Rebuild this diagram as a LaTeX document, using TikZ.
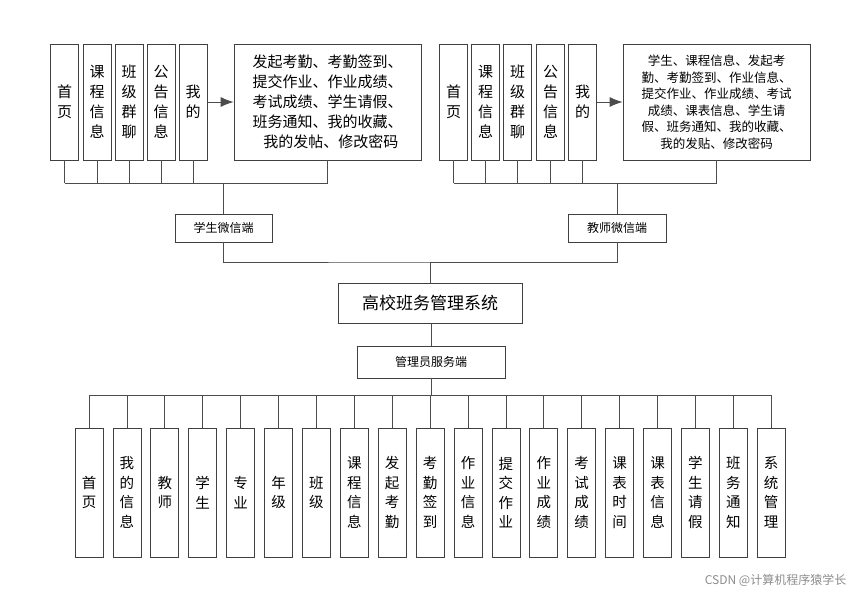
\documentclass[tikz,border=0pt]{standalone}
\usepackage{fontspec}
\setmainfont{Noto Sans CJK SC}
\usetikzlibrary{arrows.meta}
\begin{document}
\begin{tikzpicture}[x=1pt,y=-1pt,line width=0.8pt,
  bx/.style={draw=black!75,fill=white,inner sep=0pt,align=center,font=\fontsize{15}{20}\selectfont},
  conn/.style={draw=black!70,line width=0.8pt}]
\useasboundingbox (0,0) rectangle (854,595);
% left top
\foreach \n/\x/\t in {a1/64.5/首\\页, a2/97/课\\程\\信\\息, a3/129/班\\级\\群\\聊, a4/161/公\\告\\信\\息, a5/193/我\\的}
  \node[bx,minimum width=28pt,minimum height=116pt] (\n) at (\x,102) {\t};
\node[bx,minimum width=187pt,minimum height=116pt,font=\fontsize{15}{20}\selectfont] (a6) at (327.5,102) {发起考勤、考勤签到、\\提交作业、作业成绩、\\考试成绩、学生请假、\\班务通知、我的收藏、\\\ \ 我的发帖、修改密码};
\draw[conn,-{Latex[length=13pt,width=10pt]}] (a5.east) -- (a6.west);
% right top
\foreach \n/\x/\t in {b1/453.5/首\\页, b2/485.5/课\\程\\信\\息, b3/517.5/班\\级\\群\\聊, b4/550.5/公\\告\\信\\息, b5/582.5/我\\的}
  \node[bx,minimum width=28pt,minimum height=116pt] (\n) at (\x,102) {\t};
\node[bx,minimum width=187pt,minimum height=116pt,font=\fontsize{12.5}{16.5}\selectfont] (b6) at (716.5,102) {学生、课程信息、发起考\\勤、考勤签到、作业信息、\\提交作业、作业成绩、考试\\成绩、课表信息、学生请\\假、班务通知、我的收藏、\\我的发贴、修改密码};
\draw[conn,-{Latex[length=13pt,width=10pt]}] (b5.east) -- (b6.west);
% client boxes
\node[bx,minimum width=97pt,minimum height=28pt,font=\fontsize{12}{14}\selectfont] (s) at (223.5,228) {学生微信端};
\node[bx,minimum width=98pt,minimum height=28pt,font=\fontsize{12}{14}\selectfont] (t) at (617,228) {教师微信端};
\node[bx,minimum width=184pt,minimum height=40pt,font=\fontsize{17}{20}\selectfont] (m) at (430,303) {高校班务管理系统};
\node[bx,minimum width=148pt,minimum height=32pt,font=\fontsize{12}{14}\selectfont] (adm) at (431,362) {管理员服务端};
% buses top
\foreach \n in {a1,a2,a3,a4,a5,a6} \draw[conn] (\n.south) -- (\n.south |- 0,183);
\draw[conn] (a1.south |- 0,183) -- (a6.south |- 0,183);
\draw[conn] (s.north |- 0,183) -- (s.north);
\foreach \n in {b1,b2,b3,b4,b5,b6} \draw[conn] (\n.south) -- (\n.south |- 0,183);
\draw[conn] (b1.south |- 0,183) -- (b6.south |- 0,183);
\draw[conn] (t.north |- 0,183) -- (t.north);
\coordinate (j) at (431,262);
\draw[conn] (s.south) |- (j) -| (m.north);
\draw[conn] (t.south) |- (j);
\draw[conn] (m.south -| adm.north) -- (adm.north);
% bottom
\foreach \t [count=\i from 0] in {首\\页,我\\的\\信\\息,教\\师,学\\生,专\\业,年\\级,班\\级,课\\程\\信\\息,发\\起\\考\\勤,考\\勤\\签\\到,作\\业\\信\\息,提\\交\\作\\业,作\\业\\成\\绩,考\\试\\成\\绩,课\\表\\时\\间,课\\表\\信\\息,学\\生\\请\\假,班\\务\\通\\知,系\\统\\管\\理}{
  \node[bx,minimum width=28pt,minimum height=129pt,font=\fontsize{14.5}{19.5}\selectfont] (c\i) at (89+37.9*\i,492.5) {\t};
  \draw[conn] (c\i.north) -- (c\i.north |- 0,395);
}
\draw[conn] (c0.north |- 0,395) -- (c18.north |- 0,395);
\draw[conn] (adm.south) -- (adm.south |- 0,395);
\node[anchor=east,font=\fontsize{12}{14}\selectfont,text=black!45] (wm) at (850,580) {CSDN @计算机程序猿学长};
\end{tikzpicture}
\end{document}
